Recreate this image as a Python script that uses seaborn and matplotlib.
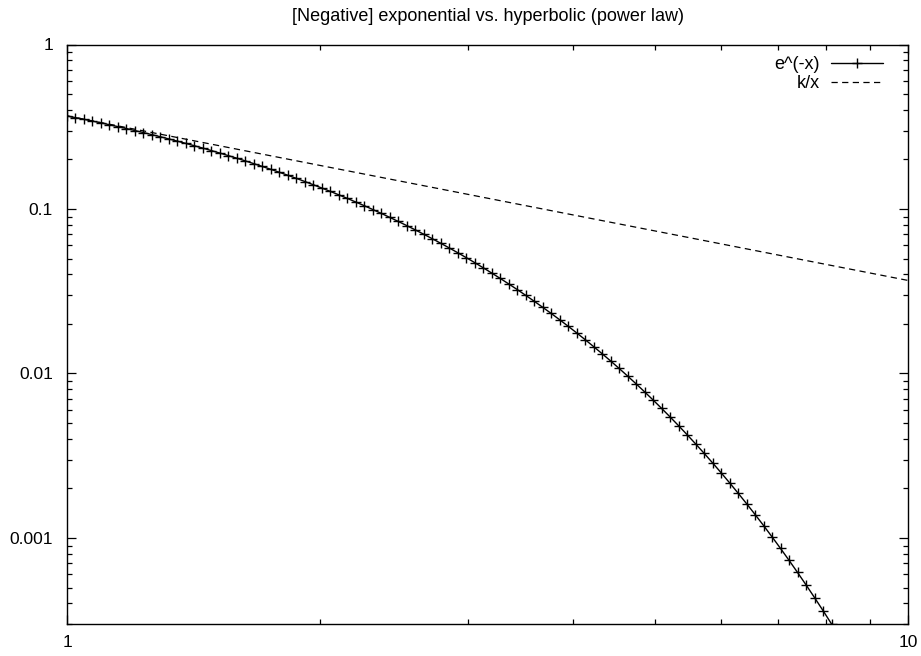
import numpy as np
import pandas as pd
import matplotlib
matplotlib.use("Agg")
import matplotlib.pyplot as plt
import matplotlib.ticker as mticker
import seaborn as sns

# sample points of e^(-x) (log-spaced in x)
exp_x = [1.0000, 1.0235, 1.0476, 1.0723, 1.0975, 1.1233, 1.1498, 1.1768, 1.2045, 1.2328,
         1.2619, 1.2915, 1.3219, 1.3530, 1.3849, 1.4175, 1.4508, 1.4850, 1.5199, 1.5557,
         1.5923, 1.6298, 1.6681, 1.7074, 1.7475, 1.7886, 1.8307, 1.8738, 1.9179, 1.9630,
         2.0092, 2.0565, 2.1049, 2.1544, 2.2051, 2.2570, 2.3101, 2.3645, 2.4201, 2.4771,
         2.5354, 2.5950, 2.6561, 2.7186, 2.7826, 2.8480, 2.9150, 2.9836, 3.0539, 3.1257,
         3.1993, 3.2745, 3.3516, 3.4305, 3.5112, 3.5938, 3.6784, 3.7649, 3.8535, 3.9442,
         4.0370, 4.1320, 4.2293, 4.3288, 4.4306, 4.5349, 4.6416, 4.7508, 4.8626, 4.9770,
         5.0941, 5.2140, 5.3367, 5.4623, 5.5908, 5.7224, 5.8570, 5.9949, 6.1359, 6.2803,
         6.4281, 6.5793, 6.7342, 6.8926, 7.0548, 7.2208, 7.3907, 7.5646, 7.7427, 7.9248,
         8.1113]
exp_y = [0.3679, 0.3593, 0.3508, 0.3422, 0.3337, 0.3252, 0.3167, 0.3083, 0.2998, 0.2915,
         0.2831, 0.2748, 0.2666, 0.2585, 0.2504, 0.2423, 0.2344, 0.2265, 0.2187, 0.2110,
         0.2035, 0.1960, 0.1886, 0.1813, 0.1742, 0.1672, 0.1603, 0.1535, 0.1469, 0.1404,
         0.1341, 0.1279, 0.1219, 0.1160, 0.1102, 0.1047, 0.09925, 0.09400, 0.08891, 0.08399,
         0.07923, 0.07464, 0.07022, 0.06597, 0.06188, 0.05796, 0.05420, 0.05061, 0.04718, 0.04391,
         0.04079, 0.03783, 0.03503, 0.03237, 0.02986, 0.02749, 0.02526, 0.02317, 0.02121, 0.01937,
         0.01765, 0.01605, 0.01456, 0.01318, 0.01191, 0.01073, 0.009642, 0.008645, 0.007730, 0.006895,
         0.006133, 0.005440, 0.004812, 0.004244, 0.003732, 0.003272, 0.002860, 0.002492, 0.002164, 0.001873,
         0.001616, 0.001389, 0.001190, 0.001015, 0.0008633, 0.0007312, 0.0006170, 0.0005185, 0.0004339, 0.0003617,
         0.0003001]

# k/x is a straight line on log-log axes
kx_x = [1.0, 10.0]
kx_y = [0.3679, 0.03679]

labels = ["e^(-x)", "k/x"]
title = "[Negative] exponential vs. hyperbolic (power law)"

sns.set_style("ticks")
plt.rcParams["font.family"] = ["Liberation Sans", "DejaVu Sans"]
plt.rcParams["font.size"] = 12.5
plt.rcParams["text.color"] = "black"
plt.rcParams["xtick.labelcolor"] = "black"
plt.rcParams["ytick.labelcolor"] = "black"

fig = plt.figure(figsize=(9.21, 6.56), dpi=100)
ax = fig.add_axes([67 / 921, 32 / 656, 841 / 921, 579.5 / 656])

df_exp = pd.DataFrame({"x": exp_x, "y": exp_y})
df_kx = pd.DataFrame({"x": kx_x, "y": kx_y})

sns.lineplot(data=df_exp, x="x", y="y", ax=ax, color="black", linewidth=1.0,
             marker="+", markersize=6.5, markeredgewidth=1.0, markeredgecolor="black",
             label=labels[0], sort=False)
sns.lineplot(data=df_kx, x="x", y="y", ax=ax, color="black", linewidth=0.9,
             dashes=False, label=labels[1], sort=False)
ax.lines[1].set_dashes((5, 3.5))

ax.set_xscale("log")
ax.set_yscale("log")
ax.set_xlim(1, 10)
ax.set_ylim(0.0003, 1)
ax.set_xlabel("")
ax.set_ylabel("")

fmt = mticker.FuncFormatter(lambda v, p: "%g" % v)
ax.xaxis.set_major_locator(mticker.FixedLocator([1, 10]))
ax.xaxis.set_major_formatter(fmt)
ax.xaxis.set_minor_locator(mticker.LogLocator(base=10, subs=np.arange(2, 10)))
ax.xaxis.set_minor_formatter(mticker.NullFormatter())
ax.yaxis.set_major_locator(mticker.FixedLocator([0.001, 0.01, 0.1, 1]))
ax.yaxis.set_major_formatter(fmt)
ax.yaxis.set_minor_locator(mticker.LogLocator(base=10, subs=np.arange(2, 10), numticks=20))
ax.yaxis.set_minor_formatter(mticker.NullFormatter())

ax.tick_params(which="both", direction="in", top=True, right=True, color="black",
               labelcolor="black", width=0.9)
ax.tick_params(which="major", length=6.5)
ax.tick_params(which="minor", length=3.4)
ax.tick_params(axis="x", which="major", pad=8)
ax.tick_params(axis="y", which="major", pad=10)
for s in ax.spines.values():
    s.set_color("black")
    s.set_linewidth(1.0)

ax.set_title(title, fontsize=13, pad=17, color="black")

leg = ax.legend(loc="upper right", bbox_to_anchor=(0.981, 0.995), frameon=False,
                markerfirst=False, borderpad=0, handlelength=2.9, handletextpad=0.6,
                labelspacing=0.08, fontsize=13)
for t in leg.get_texts():
    t.set_color("black")

fig.savefig("out.png", dpi=100)
